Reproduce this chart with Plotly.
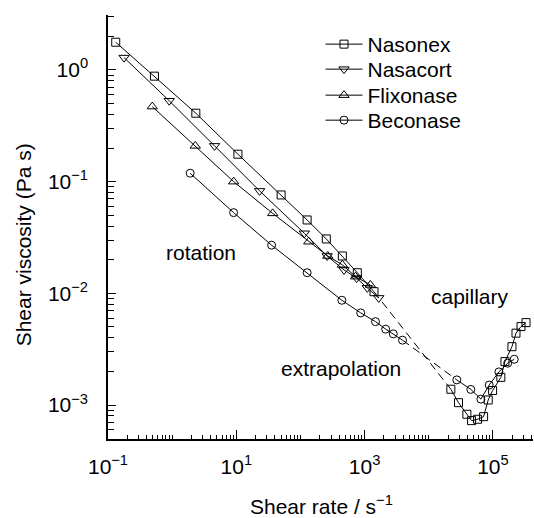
import plotly.graph_objects as go

# ---- data ----
nasonex_rot_x = [0.132, 0.53, 2.34, 10.6, 50, 127, 253, 450, 770, 1400]
nasonex_rot_y = [1.77, 0.88, 0.41, 0.176, 0.076, 0.0454, 0.0307, 0.0216, 0.0153, 0.01035]
nasonex_cap_x = [22100, 29100, 39300, 46500, 57700, 71600, 84500, 98900, 133000, 154000, 198000, 229000, 274000, 328000]
nasonex_cap_y = [0.001385, 0.00105, 0.000827, 0.000725, 0.000746, 0.000787, 0.00111, 0.00135, 0.00177, 0.00245, 0.00333, 0.0044, 0.00504, 0.00547]

nasacort_x = [0.178, 0.90, 4.58, 23.1, 115, 261, 478, 750, 1100, 1660]
nasacort_y = [1.29, 0.53, 0.209, 0.0826, 0.0345, 0.0216, 0.0162, 0.0137, 0.0112, 0.0091]

flixonase_x = [0.49, 2.29, 9.1, 36.9, 135, 267, 450, 723, 1230]
flixonase_y = [0.47, 0.209, 0.100, 0.052, 0.029, 0.0216, 0.0180, 0.0141, 0.0119]

beconase_rot_x = [1.91, 9.08, 35.5, 127, 442, 870, 1480, 2130, 2800, 3900]
beconase_rot_y = [0.119, 0.0528, 0.0270, 0.0153, 0.00867, 0.00668, 0.00558, 0.00478, 0.00434, 0.00381]
beconase_cap_x = [27400, 45300, 64900, 87500, 124000, 170000, 215000]
beconase_cap_y = [0.00168, 0.00138, 0.00113, 0.00151, 0.00198, 0.00237, 0.00257]

series_names = ["Nasonex", "Nasacort", "Flixonase", "Beconase"]

x_tick_vals = [0.1, 10, 1000, 100000]
x_tick_text = ["10<sup>\u22121</sup>", "10<sup>1</sup>", "10<sup>3</sup>", "10<sup>5</sup>"]
y_tick_vals = [1, 0.1, 0.01, 0.001]
y_tick_text = ["10<sup>0</sup>", "10<sup>\u22121</sup>", "10<sup>\u22122</sup>", "10<sup>\u22123</sup>"]

FONT = "Liberation Sans, Arial, Helvetica, sans-serif"
BLACK = "black"

fig = go.Figure()

def add(x, y, symbol, size, name=None, show=True, legend="legend"):
    fig.add_trace(go.Scatter(
        x=x, y=y, mode="lines+markers", name=name, showlegend=show, legend=legend,
        line=dict(color=BLACK, width=1),
        marker=dict(symbol=symbol, size=size, color=BLACK, line=dict(color=BLACK, width=1)),
    ))

add(nasonex_rot_x, nasonex_rot_y, "square-open", 8, series_names[0], legend="legend")
add(nasacort_x, nasacort_y, "triangle-down-open", 9, series_names[1], legend="legend2")
add(flixonase_x, flixonase_y, "triangle-up-open", 9, series_names[2], legend="legend3")
add(beconase_rot_x, beconase_rot_y, "circle-open", 8, series_names[3], legend="legend4")
add(nasonex_cap_x, nasonex_cap_y, "square-open", 8, show=False)
add(beconase_cap_x, beconase_cap_y, "circle-open", 8, show=False)

# dashed extrapolation between rotation and capillary data
for rx, ry, cx, cy in [(nasonex_rot_x, nasonex_rot_y, nasonex_cap_x, nasonex_cap_y),
                       (beconase_rot_x, beconase_rot_y, beconase_cap_x, beconase_cap_y)]:
    fig.add_trace(go.Scatter(
        x=[rx[-1], cx[0]], y=[ry[-1], cy[0]], mode="lines", showlegend=False,
        line=dict(color=BLACK, width=1, dash="8px,5px"),
    ))

x_minor = [m * 10.0 ** e for e in range(-1, 6) for m in range(1, 10)
           if not (m == 1 and e in (-1, 1, 3, 5))]
y_minor = [m * 10.0 ** e for e in range(-4, 1) for m in range(1, 10)
           if not (m == 1 and e in (-3, -2, -1, 0))]

axis_common = dict(
    type="log", showgrid=False, zeroline=False, showline=True,
    linecolor=BLACK, linewidth=1.5, ticks="inside", tickcolor=BLACK,
    tickwidth=1, tickmode="array", mirror=False,
    tickfont=dict(family=FONT, size=21, color=BLACK),
)

fig.update_xaxes(**axis_common, range=[-1, 5.625], tickvals=x_tick_vals, ticktext=x_tick_text,
                 ticklen=9, ticklabelstandoff=8,
                 minor=dict(tickmode="array", tickvals=x_minor, ticks="inside", ticklen=4,
                            tickcolor=BLACK, tickwidth=1, showgrid=False))
fig.update_yaxes(**axis_common, range=[-3.304, 0.492], tickvals=y_tick_vals, ticktext=y_tick_text,
                 ticklen=8, ticklabelstandoff=14,
                 minor=dict(tickmode="array", tickvals=y_minor, ticks="inside", ticklen=6,
                            tickcolor=BLACK, tickwidth=1, showgrid=False))

ann_font = dict(family=FONT, size=21, color=BLACK)
fig.add_annotation(x=0.453, y=-1.638, xref="x", yref="y", text="rotation",
                   showarrow=False, font=ann_font)
fig.add_annotation(x=4.64, y=-2.032, xref="x", yref="y", text="capillary",
                   showarrow=False, font=ann_font)
fig.add_annotation(x=2.625, y=-2.677, xref="x", yref="y", text="extrapolation",
                   showarrow=False, font=ann_font)
fig.add_annotation(x=-0.231, y=0.4575, xref="paper", yref="paper",
                   text="Shear viscosity (Pa s)", textangle=-90, showarrow=False,
                   font=ann_font)
fig.add_annotation(x=0.502, y=-0.19, xref="paper", yref="paper",
                   text="Shear rate / s<sup>\u22121</sup>", showarrow=False, font=ann_font)

leg_common = dict(x=0.5, xanchor="left", yanchor="top", bgcolor="rgba(0,0,0,0)",
                  itemwidth=37, font=dict(family=FONT, size=21, color=BLACK))
fig.update_layout(
    width=534, height=518, autosize=False,
    margin=dict(l=108, r=1, t=15, b=79),
    paper_bgcolor="white", plot_bgcolor="white",
    font=dict(family=FONT, size=21, color=BLACK),
    legend=dict(y=0.9788, **leg_common),
    legend2=dict(y=0.9198, **leg_common),
    legend3=dict(y=0.8585, **leg_common),
    legend4=dict(y=0.7995, **leg_common),
)

fig.write_html("out.html")
